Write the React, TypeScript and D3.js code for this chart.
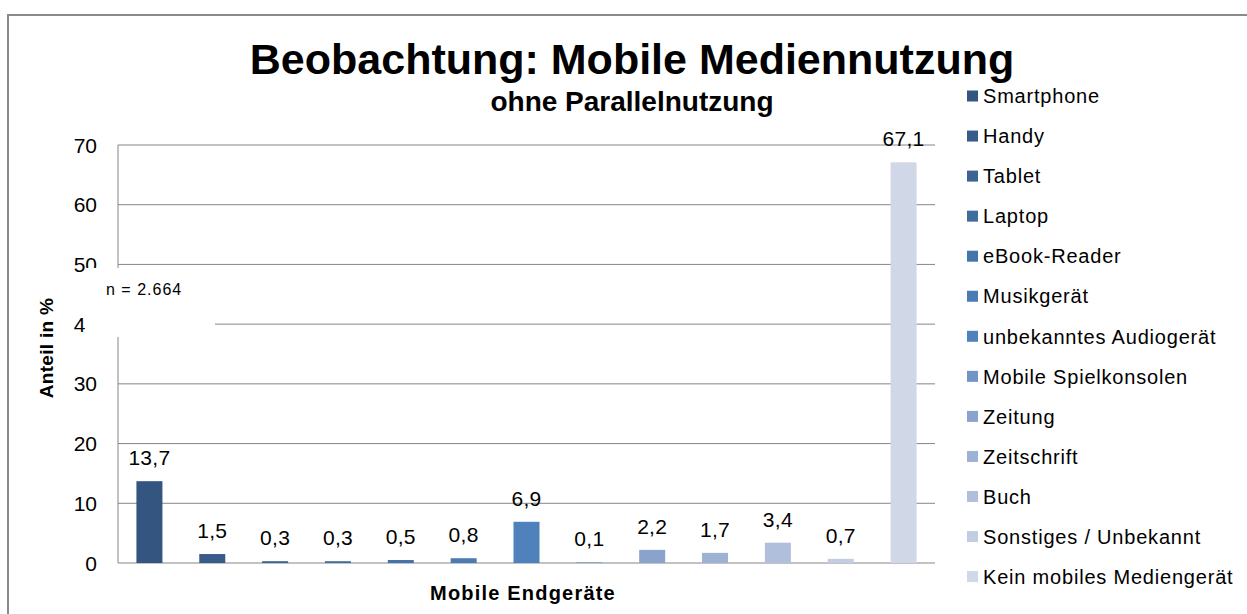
import React, { useEffect, useRef } from "react";
import * as d3 from "d3";

const categories = [
  "Smartphone",
  "Handy",
  "Tablet",
  "Laptop",
  "eBook-Reader",
  "Musikgerät",
  "unbekanntes Audiogerät",
  "Mobile Spielkonsolen",
  "Zeitung",
  "Zeitschrift",
  "Buch",
  "Sonstiges / Unbekannt",
  "Kein mobiles Mediengerät",
];
const values = [13.7, 1.5, 0.3, 0.3, 0.5, 0.8, 6.9, 0.1, 2.2, 1.7, 3.4, 0.7, 67.1];
const colors = [
  "#34557f",
  "#385b89",
  "#3c6393",
  "#416c9e",
  "#4574aa",
  "#4a7bb4",
  "#4f81bd",
  "#7193c6",
  "#89a3cd",
  "#9cb1d4",
  "#b0c0dc",
  "#c2cde3",
  "#d0d8e8",
];
const yTicks = [0, 10, 20, 30, 40, 50, 60, 70];

const W = 1247;
const H = 614;

const App = () => {
  const ref = useRef<SVGSVGElement>(null);

  useEffect(() => {
    const svg = d3.select(ref.current);
    svg.selectAll("*").remove();
    const font = "'Liberation Sans', Arial, sans-serif";

    svg.append("rect").attr("width", W).attr("height", H).attr("fill", "#fff");

    // frame
    svg.append("path")
      .attr("d", `M8,${H} L8,15 L${W},15`)
      .attr("fill", "none")
      .attr("stroke", "#8a8a8a")
      .attr("stroke-width", 2);

    const x = d3.scaleBand().domain(categories).range([118, 935]).paddingInner(0.586).paddingOuter(0.293);
    const y = d3.scaleLinear().domain([0, 70]).range([563, 145]);

    // gridlines
    svg.append("g")
      .selectAll("line")
      .data(yTicks)
      .join("line")
      .attr("x1", 118)
      .attr("x2", 935)
      .attr("y1", (d) => y(d))
      .attr("y2", (d) => y(d))
      .attr("stroke", "#868686")
      .attr("stroke-width", 1);

    svg.append("line")
      .attr("x1", 118).attr("x2", 118)
      .attr("y1", y(70)).attr("y2", y(0))
      .attr("stroke", "#868686");

    // tick labels
    svg.append("g")
      .selectAll("text")
      .data(yTicks)
      .join("text")
      .attr("x", 97)
      .attr("y", (d) => y(d))
      .attr("dy", "0.36em")
      .attr("text-anchor", "end")
      .style("font-family", font)
      .style("font-size", "21px")
      .style("fill", "#000")
      .text((d) => d);

    // bars
    svg.append("g")
      .selectAll("rect")
      .data(values)
      .join("rect")
      .attr("x", (d, i) => x(categories[i])!)
      .attr("width", x.bandwidth())
      .attr("y", (d) => y(d))
      .attr("height", (d) => y(0) - y(d))
      .attr("fill", (d, i) => colors[i]);

    const fmt = (v: number) => d3.format(".1f")(v).replace(".", ",");
    svg.append("g")
      .selectAll("text")
      .data(values)
      .join("text")
      .attr("x", (d, i) => x(categories[i])! + x.bandwidth() / 2)
      .attr("y", (d) => y(d) - 16)
      .attr("text-anchor", "middle")
      .style("font-family", font)
      .style("font-size", "21px")
      .style("letter-spacing", "0.3px")
      .style("fill", "#000")
      .text((d) => fmt(d));

    // n box
    svg.append("rect")
      .attr("x", 85).attr("y", 268).attr("width", 130).attr("height", 69)
      .attr("fill", "#fff");
    svg.append("text")
      .attr("x", 106).attr("y", 295)
      .style("font-family", font)
      .style("font-size", "16px")
      .style("letter-spacing", "1px")
      .text("n = 2.664");

    // titles
    svg.append("text")
      .attr("x", 632).attr("y", 74)
      .attr("text-anchor", "middle")
      .style("font-family", font)
      .style("font-size", "43px")
      .style("font-weight", "bold")
      .text("Beobachtung: Mobile Mediennutzung");
    svg.append("text")
      .attr("x", 632).attr("y", 111)
      .attr("text-anchor", "middle")
      .style("font-family", font)
      .style("font-size", "28px")
      .style("font-weight", "bold")
      .text("ohne Parallelnutzung");

    svg.append("text")
      .attr("x", 523).attr("y", 600)
      .attr("text-anchor", "middle")
      .style("font-family", font)
      .style("font-size", "20px")
      .style("font-weight", "bold")
      .style("letter-spacing", "1.2px")
      .text("Mobile Endgeräte");

    svg.append("text")
      .attr("transform", "translate(53,348) rotate(-90)")
      .attr("text-anchor", "middle")
      .style("font-family", font)
      .style("font-size", "19px")
      .style("font-weight", "bold")
      .style("letter-spacing", "0.3px")
      .text("Anteil in %");

    // legend
    const lg = svg.append("g")
      .selectAll("g")
      .data(categories)
      .join("g")
      .attr("transform", (d, i) => `translate(967,${96 + i * 40.05})`);
    lg.append("rect")
      .attr("x", 0).attr("y", -5.5).attr("width", 11).attr("height", 11)
      .attr("fill", (d, i) => colors[i]);
    lg.append("text")
      .attr("x", 16)
      .attr("dy", "0.36em")
      .style("font-family", font)
      .style("font-size", "20px")
      .style("letter-spacing", "0.8px")
      .text((d) => d);
  }, []);

  return (
    <svg
      ref={ref}
      width={W}
      height={H}
      style={{ position: "absolute", left: 0, top: 0, display: "block" }}
    ></svg>
  );
};

export default App;
